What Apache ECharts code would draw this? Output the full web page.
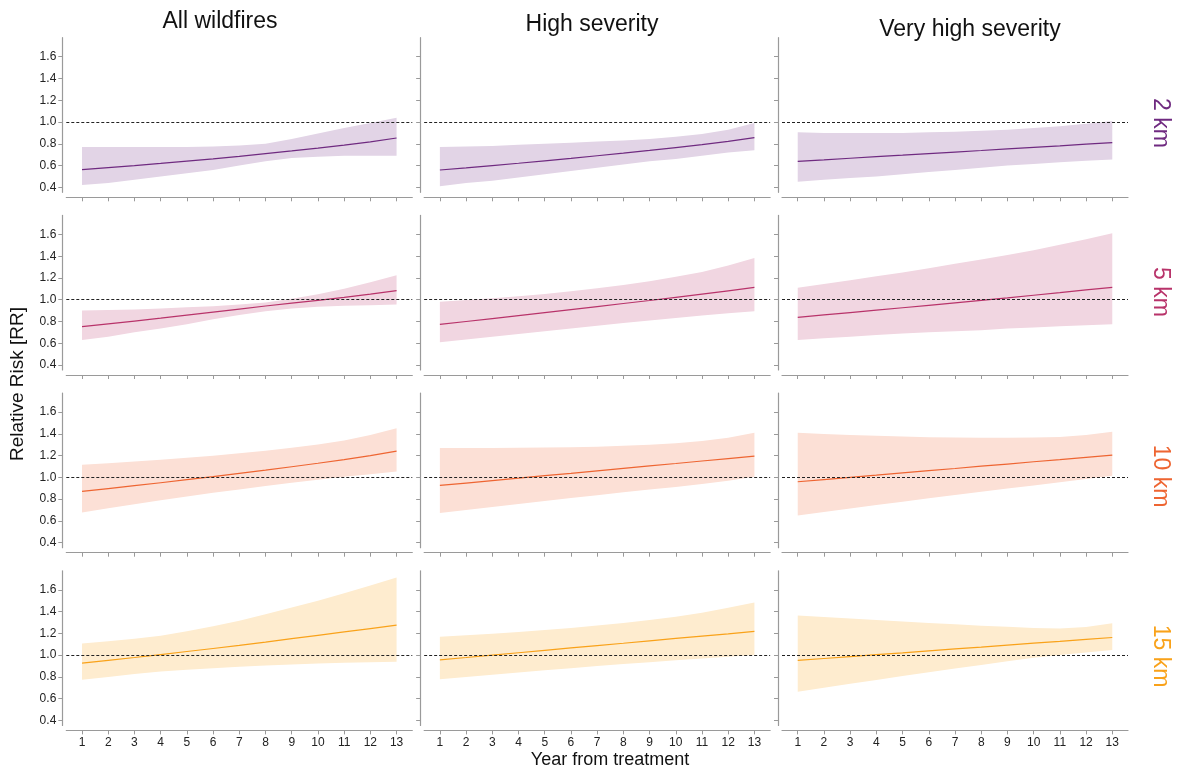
<!DOCTYPE html>
<html>
<head>
<meta charset="utf-8">
<script src="https://cdn.jsdelivr.net/npm/echarts@6/dist/echarts.min.js"></script>
<style>
html,body{margin:0;padding:0;background:#fff;}
#chart{width:1179px;height:771px;}
</style>
</head>
<body>
<div id="chart"></div>
<script>
// ---------------- DATA ----------------
const YEARS = [1,2,3,4,5,6,7,8,9,10,11,12,13];
const Y_TICKS = [0.4,0.6,0.8,1.0,1.2,1.4,1.6];
const REF_RR = 1.0;
const COL_TITLES = ['All wildfires','High severity','Very high severity'];
const ROW_LABELS = ['2 km','5 km','10 km','15 km'];
const X_TITLE = 'Year from treatment';
const Y_TITLE = 'Relative Risk [RR]';

// 2 km
const mean2kmAll  = [0.562,0.58,0.599,0.619,0.64,0.662,0.685,0.709,0.734,0.76,0.787,0.817,0.853];
const lower2kmAll = [0.42,0.44,0.47,0.50,0.53,0.56,0.60,0.64,0.67,0.68,0.69,0.69,0.69];
const upper2kmAll = [0.77,0.77,0.77,0.77,0.77,0.775,0.785,0.80,0.845,0.895,0.945,0.99,1.04];
const mean2kmHigh  = [0.559,0.579,0.60,0.621,0.643,0.666,0.69,0.714,0.739,0.765,0.792,0.822,0.856];
const lower2kmHigh = [0.41,0.44,0.46,0.49,0.52,0.55,0.58,0.61,0.64,0.66,0.69,0.72,0.74];
const upper2kmHigh = [0.77,0.775,0.78,0.79,0.80,0.81,0.82,0.83,0.845,0.865,0.89,0.93,0.99];
const mean2kmVery  = [0.638,0.652,0.667,0.681,0.695,0.71,0.724,0.738,0.753,0.767,0.781,0.796,0.81];
const lower2kmVery = [0.45,0.47,0.485,0.50,0.52,0.54,0.56,0.58,0.60,0.615,0.63,0.643,0.655];
const upper2kmVery = [0.905,0.90,0.90,0.90,0.90,0.905,0.91,0.92,0.93,0.945,0.96,0.985,1.01];

// 5 km
const mean5kmAll  = [0.752,0.778,0.804,0.83,0.858,0.886,0.914,0.942,0.968,0.994,1.022,1.052,1.083];
const lower5kmAll = [0.63,0.66,0.70,0.735,0.775,0.82,0.86,0.895,0.92,0.935,0.945,0.95,0.957];
const upper5kmAll = [0.90,0.905,0.91,0.92,0.93,0.94,0.955,0.975,1.01,1.05,1.10,1.16,1.225];
const mean5kmHigh  = [0.773,0.80,0.827,0.854,0.881,0.909,0.937,0.965,0.993,1.022,1.052,1.082,1.113];
const lower5kmHigh = [0.608,0.635,0.66,0.685,0.71,0.735,0.76,0.785,0.81,0.833,0.855,0.875,0.893];
const upper5kmHigh = [0.982,0.997,1.013,1.032,1.053,1.077,1.105,1.135,1.17,1.21,1.255,1.315,1.383];
const mean5kmVery  = [0.838,0.86,0.882,0.904,0.926,0.948,0.971,0.994,1.017,1.041,1.065,1.09,1.114];
const lower5kmVery = [0.63,0.645,0.66,0.675,0.69,0.70,0.71,0.72,0.735,0.745,0.755,0.765,0.775];
const upper5kmVery = [1.11,1.145,1.18,1.215,1.25,1.29,1.33,1.37,1.41,1.455,1.505,1.555,1.61];

// 10 km
const mean10kmAll  = [0.871,0.897,0.924,0.951,0.979,1.007,1.037,1.067,1.098,1.13,1.163,1.20,1.242];
const lower10kmAll = [0.678,0.716,0.753,0.789,0.824,0.858,0.89,0.92,0.95,0.978,1.005,1.03,1.055];
const upper10kmAll = [1.116,1.13,1.146,1.163,1.18,1.20,1.222,1.246,1.272,1.303,1.34,1.39,1.453];
const mean10kmHigh  = [0.926,0.948,0.971,0.993,1.016,1.038,1.061,1.083,1.106,1.128,1.151,1.173,1.196];
const lower10kmHigh = [0.672,0.70,0.728,0.756,0.783,0.81,0.837,0.863,0.888,0.912,0.94,0.97,1.005];
const upper10kmHigh = [1.27,1.27,1.27,1.272,1.275,1.278,1.283,1.29,1.30,1.315,1.335,1.365,1.41];
const mean10kmVery  = [0.96,0.98,1.001,1.021,1.042,1.062,1.082,1.103,1.123,1.144,1.164,1.185,1.205];
const lower10kmVery = [0.651,0.683,0.715,0.746,0.777,0.808,0.838,0.868,0.897,0.926,0.955,0.985,1.015];
const upper10kmVery = [1.41,1.40,1.39,1.382,1.375,1.37,1.366,1.364,1.364,1.366,1.372,1.39,1.42];

// 15 km
const mean15kmAll  = [0.926,0.952,0.978,1.005,1.033,1.061,1.09,1.12,1.151,1.182,1.213,1.244,1.276];
const lower15kmAll = [0.773,0.80,0.826,0.85,0.866,0.88,0.893,0.904,0.914,0.923,0.93,0.935,0.939];
const upper15kmAll = [1.107,1.127,1.15,1.178,1.22,1.265,1.316,1.375,1.437,1.50,1.568,1.64,1.714];
const mean15kmHigh  = [0.957,0.978,1.0,1.022,1.044,1.066,1.088,1.109,1.131,1.153,1.175,1.196,1.218];
const lower15kmHigh = [0.779,0.80,0.82,0.84,0.86,0.88,0.90,0.918,0.935,0.952,0.968,0.985,1.0];
const upper15kmHigh = [1.168,1.182,1.197,1.213,1.23,1.25,1.272,1.296,1.323,1.353,1.39,1.435,1.484];
const mean15kmVery  = [0.951,0.969,0.986,1.004,1.021,1.039,1.057,1.074,1.092,1.11,1.127,1.145,1.162];
const lower15kmVery = [0.663,0.70,0.736,0.772,0.807,0.842,0.876,0.91,0.943,0.975,1.0,1.025,1.046];
const upper15kmVery = [1.365,1.35,1.336,1.322,1.308,1.295,1.283,1.271,1.26,1.25,1.245,1.258,1.294];

// ---------------- STYLE / LAYOUT ----------------
const ROW_COLORS = ['#6f2a80','#b8336a','#ee6532','#f9a21a'];
const BAND_COLORS = ['#e2d4e6','#f1d6e1','#fce0d6','#feeccf'];
const FONT = '"Liberation Sans", Arial, Helvetica, sans-serif';
const AXIS_COLOR = '#9a9a9a';
const X_MIN = 0.4, X_MAX = 13.6, Y_MIN = 0.354, Y_MAX = 1.775;
const GRID_LEFT0 = 66.3, COL_STEP = 357.85, GRID_W = 346;
const GRID_TOP0 = 37.7, ROW_STEP = 177.7, GRID_H = 154.6;

const PANELS = [
  [[mean2kmAll,lower2kmAll,upper2kmAll],[mean2kmHigh,lower2kmHigh,upper2kmHigh],[mean2kmVery,lower2kmVery,upper2kmVery]],
  [[mean5kmAll,lower5kmAll,upper5kmAll],[mean5kmHigh,lower5kmHigh,upper5kmHigh],[mean5kmVery,lower5kmVery,upper5kmVery]],
  [[mean10kmAll,lower10kmAll,upper10kmAll],[mean10kmHigh,lower10kmHigh,upper10kmHigh],[mean10kmVery,lower10kmVery,upper10kmVery]],
  [[mean15kmAll,lower15kmAll,upper15kmAll],[mean15kmHigh,lower15kmHigh,upper15kmHigh],[mean15kmVery,lower15kmVery,upper15kmVery]]
];

// band polygon drawn through the axes' own coordinate system
function makeBandRenderer(lo, hi, fill) {
  return function (params, api) {
    if (params.dataIndex !== 0) return null;
    const pts = [];
    for (let i = 0; i < YEARS.length; i++) pts.push(api.coord([YEARS[i], hi[i]]));
    for (let i = YEARS.length - 1; i >= 0; i--) pts.push(api.coord([YEARS[i], lo[i]]));
    return { type: 'polygon', shape: { points: pts }, style: { fill: fill }, silent: true };
  };
}

const grids = [], xAxes = [], yAxes = [], series = [];
for (let r = 0; r < 4; r++) {
  for (let c = 0; c < 3; c++) {
    const idx = r * 3 + c;
    const [mean, lo, hi] = PANELS[r][c];
    const col = ROW_COLORS[r];
    grids.push({
      left: GRID_LEFT0 + c * COL_STEP, top: GRID_TOP0 + r * ROW_STEP,
      width: GRID_W, height: GRID_H, containLabel: false, outerBoundsMode: 'none'
    });
    xAxes.push({
      gridIndex: idx, type: 'value', min: X_MIN, max: X_MAX, offset: 5,
      axisLine: { show: true, onZero: false, lineStyle: { color: AXIS_COLOR, width: 1.2 } },
      axisTick: { show: true, customValues: YEARS, length: 4, lineStyle: { color: AXIS_COLOR, width: 1 } },
      axisLabel: { show: r === 3, customValues: YEARS, fontSize: 12, color: '#222', margin: 6, fontFamily: FONT },
      splitLine: { show: false }
    });
    yAxes.push({
      gridIndex: idx, type: 'value', min: Y_MIN, max: Y_MAX, offset: 4,
      axisLine: { show: true, onZero: false, lineStyle: { color: AXIS_COLOR, width: 1.2 } },
      axisTick: { show: true, customValues: Y_TICKS, length: 4, lineStyle: { color: AXIS_COLOR, width: 1 } },
      axisLabel: { show: c === 0, customValues: Y_TICKS, fontSize: 12, color: '#222', margin: 6, fontFamily: FONT,
                   formatter: v => Number(v).toFixed(1) },
      splitLine: { show: false }
    });
    // confidence band
    series.push({
      type: 'custom', xAxisIndex: idx, yAxisIndex: idx, silent: true, z: 1,
      data: YEARS.map((x, i) => [x, lo[i], hi[i]]),
      encode: { x: 0, y: [1, 2] },
      renderItem: makeBandRenderer(lo, hi, BAND_COLORS[r])
    });
    // estimate line + reference line
    series.push({
      type: 'line', xAxisIndex: idx, yAxisIndex: idx, symbol: 'none', silent: true,
      data: YEARS.map((x, i) => [x, mean[i]]), lineStyle: { color: col, width: 1.2 }, z: 4,
      markLine: {
        silent: true, symbol: ['none', 'none'], label: { show: false }, animation: false,
        lineStyle: { color: '#222', type: [3, 2], width: 1 },
        data: [{ yAxis: REF_RR }]
      }
    });
  }
}

const TITLE_X = [220, 592, 970];
const TITLE_Y = [21.5, 24.5, 29.5];
const ROW_LABEL_Y = [123, 292, 476, 656];
const graphics = [];
COL_TITLES.forEach((t, c) => graphics.push({
  type: 'text', x: TITLE_X[c], y: TITLE_Y[c],
  style: { text: t, fontSize: 23, fontFamily: FONT, fill: '#111', align: 'center', verticalAlign: 'middle' }
}));
ROW_LABELS.forEach((t, r) => graphics.push({
  type: 'text', x: 1160, y: ROW_LABEL_Y[r], rotation: -Math.PI / 2,
  style: { text: t, fontSize: 23, fontFamily: FONT, fill: ROW_COLORS[r], align: 'center', verticalAlign: 'middle' }
}));
graphics.push({
  type: 'text', x: 18, y: 384, rotation: Math.PI / 2,
  style: { text: Y_TITLE, fontSize: 19, fontFamily: FONT, fill: '#111', align: 'center', verticalAlign: 'middle' }
});
graphics.push({
  type: 'text', x: 610, y: 760,
  style: { text: X_TITLE, fontSize: 18, fontFamily: FONT, fill: '#111', align: 'center', verticalAlign: 'middle' }
});

const chart = echarts.init(document.getElementById('chart'), null, { renderer: 'canvas' });
chart.setOption({
  backgroundColor: '#fff',
  animation: false,
  grid: grids, xAxis: xAxes, yAxis: yAxes, series: series,
  graphic: graphics
});
</script>
</body>
</html>
